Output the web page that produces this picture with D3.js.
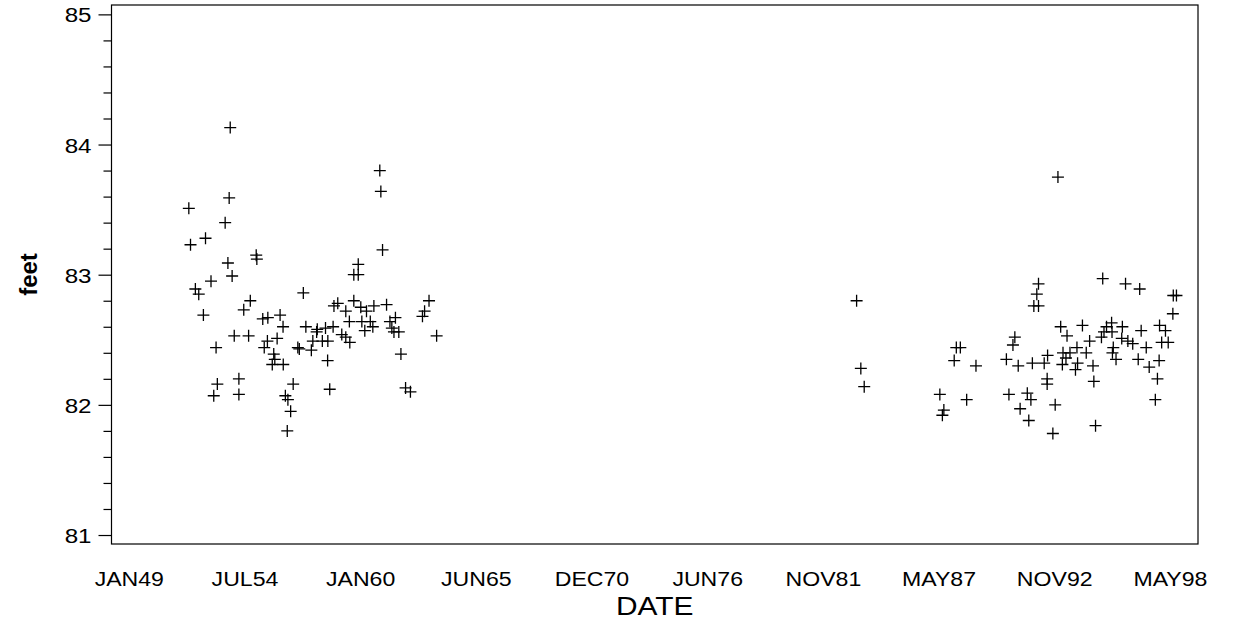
<!DOCTYPE html>
<html><head><meta charset="utf-8">
<script src="https://cdn.jsdelivr.net/npm/d3@7/dist/d3.min.js"></script>
<style>
body{margin:0;background:#fff}
text{font-family:"Liberation Sans",Arial,Helvetica,sans-serif;fill:#000}
</style>
</head><body>
<svg id="chart" width="1235" height="627"></svg>
<script>
// DATE as decimal year
const dates = [
1953.85,1960.93,1960.98,1953.80,1951.89,1953.61,1952.68,1951.97,1955.08,1955.11,
1961.06,1953.74,1959.91,1959.70,1959.91,1953.94,1952.94,1952.20,1952.36,1957.31,
1952.58,1954.80,1954.49,1955.39,1955.63,1956.21,1956.35,1954.04,1954.72,1953.18,
1955.61,1955.46,1956.07,1955.91,1955.96,1955.84,1956.36,1953.24,1953.07,1954.26,
1954.26,1956.83,1956.46,1956.58,1956.71,1956.55,1958.56,1962.15,1962.38,1963.62,
1961.93,1963.26,1963.05,1962.95,1961.25,1961.67,1961.41,1961.60,1961.83,1961.50,
1958.94,1958.76,1959.70,1960.03,1960.65,1959.32,1960.30,1960.08,1960.48,1959.49,
1960.60,1960.22,1959.13,1959.32,1959.51,1958.72,1958.36,1957.94,1957.97,1957.76,
1957.69,1957.05,1957.12,1958.21,1958.47,1958.46,1957.43,
1993.03,1983.50,1983.70,1983.86,1987.44,1987.63,1987.56,1988.71,1988.22,1988.41,
1988.12,1989.15,1992.11,1992.03,1991.89,1992.11,1995.15,1996.23,1996.90,1998.49,
1998.64,1998.47,1990.99,1990.90,1990.59,1991.15,1991.82,1992.38,1992.54,1992.52,
1992.52,1990.71,1991.58,1991.75,1991.24,1991.65,1992.90,1992.79,1994.81,1993.16,
1994.19,1993.46,1993.93,1994.53,1995.09,1993.27,1993.60,1993.41,1994.37,1993.96,
1993.86,1993.24,1994.69,1994.73,1995.57,1995.33,1995.21,1995.59,1996.08,1996.05,
1996.34,1996.57,1995.65,1995.61,1995.78,1996.97,1997.21,1996.83,1997.35,1997.82,
1997.84,1998.12,1997.94,1998.25,1997.74,1997.64
];
const feet = [
84.13,83.80,83.64,83.59,83.51,83.40,83.28,83.23,83.15,83.12,
83.19,83.09,83.08,83.00,83.00,82.99,82.95,82.89,82.85,82.86,
82.69,82.80,82.73,82.66,82.67,82.69,82.60,82.53,82.53,82.44,
82.49,82.44,82.51,82.39,82.35,82.31,82.31,82.16,82.07,82.20,
82.08,82.16,82.07,82.04,81.95,81.80,82.12,82.13,82.10,82.53,
82.39,82.80,82.72,82.68,82.77,82.67,82.64,82.56,82.56,82.59,
82.78,82.76,82.80,82.75,82.76,82.72,82.72,82.64,82.64,82.64,
82.60,82.57,82.54,82.52,82.48,82.60,82.59,82.56,82.58,82.49,
82.42,82.44,82.43,82.49,82.49,82.34,82.60,
83.75,82.80,82.28,82.14,82.08,81.96,81.92,82.04,82.44,82.44,
82.34,82.30,82.93,82.85,82.76,82.76,82.97,82.93,82.89,82.84,
82.84,82.70,82.52,82.46,82.35,82.30,82.32,82.32,82.38,82.20,
82.16,82.08,82.09,82.04,81.97,81.88,82.00,81.78,81.84,82.60,
82.61,82.53,82.44,82.49,82.52,82.40,82.40,82.36,82.40,82.32,
82.27,82.31,82.30,82.18,82.63,82.60,82.56,82.56,82.60,82.51,
82.49,82.47,82.44,82.40,82.35,82.57,82.44,82.35,82.29,82.34,
82.61,82.57,82.48,82.48,82.20,82.04
];
// ticks every 2000 days from 01JAN1960 (as decimal years)
const xTickValues = [1949.049,1954.524,1960.000,1965.476,1970.951,1976.427,1981.903,1987.379,1992.854,1998.330];
const xTickLabels = ["JAN49","JUL54","JAN60","JUN65","DEC70","JUN76","NOV81","MAY87","NOV92","MAY98"];
const yMajorTicks = [81,82,83,84,85];
const yMinorTicks = [81.2,81.4,81.6,81.8,82.2,82.4,82.6,82.8,83.2,83.4,83.6,83.8,84.2,84.4,84.6,84.8];
const xTitle = "DATE";
const yTitle = "feet";

const svg = d3.select("#chart");
const L = 111.5, R = 1198, T = 5, B = 544;
const x = d3.scaleLinear().domain([1948.23, 1999.66]).range([L, R]);
const y = d3.scaleLinear().domain([80.931, 85.072]).range([B, T]);
const SX = 1.1;

svg.append("rect").attr("x", L).attr("y", T).attr("width", R - L).attr("height", B - T)
  .attr("fill", "none").attr("stroke", "#000").attr("stroke-width", 1.2);

// y axis minor
const yMinor = svg.append("g").attr("transform", `translate(${L},0)`)
  .call(d3.axisLeft(y).tickValues(yMinorTicks).tickSize(8).tickFormat(""));
yMinor.select(".domain").remove();
yMinor.selectAll("line").attr("stroke", "#000").attr("stroke-width", 1.2);

const yMajor = svg.append("g").attr("transform", `translate(${L},0)`)
  .call(d3.axisLeft(y).tickValues(yMajorTicks).tickSize(13).tickPadding(0).tickFormat(d3.format("d")));
yMajor.select(".domain").remove();
yMajor.selectAll("line").attr("stroke", "#000").attr("stroke-width", 1.2);
yMajor.selectAll("text").attr("font-size", 21).attr("x", null).attr("dy", "0.36em")
  .attr("transform", `translate(-20,0) scale(1.15,1)`).attr("fill", "#000");

// x axis labels (no tick marks)
const xAx = svg.append("g").attr("transform", `translate(0,${B})`)
  .call(d3.axisBottom(x).tickValues(xTickValues).tickSize(0).tickFormat((d, i) => xTickLabels[i]));
xAx.select(".domain").remove();
xAx.selectAll("text").attr("font-size", 21).attr("y", null).attr("dy", null)
  .attr("transform", `translate(0,42) scale(${SX},1)`).attr("fill", "#000");

// titles
svg.append("text").attr("text-anchor", "middle")
  .attr("transform", `translate(${(L + R) / 2},615) scale(1.15,1)`)
  .attr("font-size", 26).text(xTitle);
svg.append("text").attr("text-anchor", "middle").attr("font-weight", "bold")
  .attr("transform", `translate(37,${(T + B) / 2}) rotate(-90)`)
  .attr("font-size", 24).text(yTitle);

// plus markers
const pts = dates.map((d, i) => [d, feet[i]]);
const h = 6;
svg.append("g").attr("stroke", "#000").attr("stroke-width", 1.3).attr("fill", "none")
  .selectAll("path").data(pts).join("path")
  .attr("d", d => {
    const cx = x(d[0]), cy = y(d[1]);
    return `M${cx - h},${cy}H${cx + h}M${cx},${cy - h}V${cy + h}`;
  });
</script>
</body></html>
